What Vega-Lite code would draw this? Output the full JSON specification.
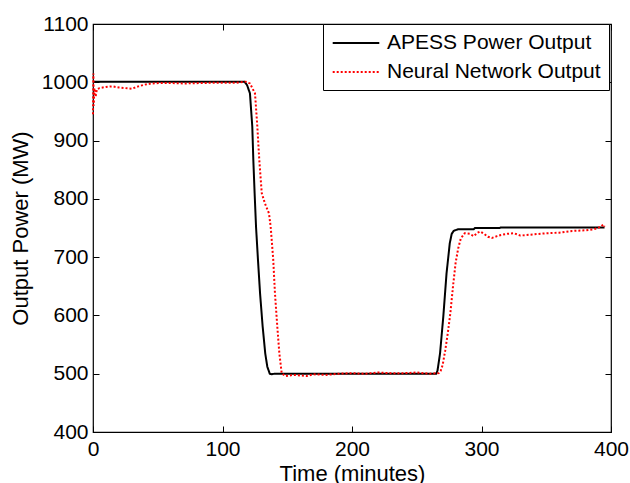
{
  "$schema": "https://vega.github.io/schema/vega-lite/v6.json",
  "width": 518,
  "height": 408,
  "autosize": {"type": "none"},
  "padding": {"left": 93, "top": 24, "right": 19, "bottom": 51},
  "background": "white",
  "config": {
    "view": {"stroke": "black", "strokeWidth": 1.2},
    "font": "Liberation Sans",
    "axis": {
      "grid": false,
      "domain": false,
      "tickColor": "black",
      "tickSize": -6,
      "tickWidth": 1,
      "labelColor": "black",
      "labelFont": "Liberation Sans",
      "labelFontSize": 21,
      "titleFont": "Liberation Sans",
      "titleFontSize": 22,
      "titleFontWeight": "normal",
      "titleColor": "black",
      "format": "d"
    }
  },
  "data": {
    "values": [
      {"t": 0, "v": 1001, "s": "APESS Power Output"},
      {"t": 117, "v": 1001, "s": "APESS Power Output"},
      {"t": 119, "v": 995, "s": "APESS Power Output"},
      {"t": 121.2, "v": 981, "s": "APESS Power Output"},
      {"t": 123, "v": 924, "s": "APESS Power Output"},
      {"t": 123.8, "v": 867, "s": "APESS Power Output"},
      {"t": 124.8, "v": 810, "s": "APESS Power Output"},
      {"t": 125.9, "v": 752, "s": "APESS Power Output"},
      {"t": 127.4, "v": 695, "s": "APESS Power Output"},
      {"t": 129, "v": 638, "s": "APESS Power Output"},
      {"t": 131, "v": 581, "s": "APESS Power Output"},
      {"t": 133, "v": 535, "s": "APESS Power Output"},
      {"t": 134.6, "v": 512, "s": "APESS Power Output"},
      {"t": 136.5, "v": 500, "s": "APESS Power Output"},
      {"t": 138, "v": 499, "s": "APESS Power Output"},
      {"t": 140, "v": 500, "s": "APESS Power Output"},
      {"t": 265, "v": 500, "s": "APESS Power Output"},
      {"t": 266, "v": 505, "s": "APESS Power Output"},
      {"t": 268, "v": 535, "s": "APESS Power Output"},
      {"t": 270.5, "v": 598, "s": "APESS Power Output"},
      {"t": 273, "v": 672, "s": "APESS Power Output"},
      {"t": 275.5, "v": 724, "s": "APESS Power Output"},
      {"t": 277, "v": 740, "s": "APESS Power Output"},
      {"t": 278.5, "v": 745, "s": "APESS Power Output"},
      {"t": 282, "v": 748, "s": "APESS Power Output"},
      {"t": 294, "v": 748, "s": "APESS Power Output"},
      {"t": 295, "v": 750, "s": "APESS Power Output"},
      {"t": 314, "v": 750, "s": "APESS Power Output"},
      {"t": 315, "v": 751, "s": "APESS Power Output"},
      {"t": 395, "v": 751, "s": "APESS Power Output"},
      {"t": 0, "v": 945, "s": "Neural Network Output"},
      {"t": 0.3, "v": 1015, "s": "Neural Network Output"},
      {"t": 0.6, "v": 960, "s": "Neural Network Output"},
      {"t": 1, "v": 990, "s": "Neural Network Output"},
      {"t": 2, "v": 975, "s": "Neural Network Output"},
      {"t": 3, "v": 988, "s": "Neural Network Output"},
      {"t": 5, "v": 990, "s": "Neural Network Output"},
      {"t": 10, "v": 992, "s": "Neural Network Output"},
      {"t": 15, "v": 993, "s": "Neural Network Output"},
      {"t": 20, "v": 991, "s": "Neural Network Output"},
      {"t": 25, "v": 990, "s": "Neural Network Output"},
      {"t": 30, "v": 989, "s": "Neural Network Output"},
      {"t": 35, "v": 993, "s": "Neural Network Output"},
      {"t": 40, "v": 996, "s": "Neural Network Output"},
      {"t": 45, "v": 998, "s": "Neural Network Output"},
      {"t": 55, "v": 999, "s": "Neural Network Output"},
      {"t": 70, "v": 998, "s": "Neural Network Output"},
      {"t": 90, "v": 999, "s": "Neural Network Output"},
      {"t": 110, "v": 999, "s": "Neural Network Output"},
      {"t": 118, "v": 1001, "s": "Neural Network Output"},
      {"t": 121.2, "v": 998, "s": "Neural Network Output"},
      {"t": 125.1, "v": 981, "s": "Neural Network Output"},
      {"t": 126.9, "v": 924, "s": "Neural Network Output"},
      {"t": 128.4, "v": 867, "s": "Neural Network Output"},
      {"t": 130.3, "v": 810, "s": "Neural Network Output"},
      {"t": 132.8, "v": 792, "s": "Neural Network Output"},
      {"t": 135.9, "v": 775, "s": "Neural Network Output"},
      {"t": 137.2, "v": 752, "s": "Neural Network Output"},
      {"t": 139.2, "v": 695, "s": "Neural Network Output"},
      {"t": 140.5, "v": 638, "s": "Neural Network Output"},
      {"t": 142.3, "v": 581, "s": "Neural Network Output"},
      {"t": 143.9, "v": 535, "s": "Neural Network Output"},
      {"t": 145.7, "v": 501, "s": "Neural Network Output"},
      {"t": 148.3, "v": 496, "s": "Neural Network Output"},
      {"t": 155, "v": 498, "s": "Neural Network Output"},
      {"t": 160, "v": 497, "s": "Neural Network Output"},
      {"t": 165, "v": 496, "s": "Neural Network Output"},
      {"t": 170, "v": 499, "s": "Neural Network Output"},
      {"t": 180, "v": 498, "s": "Neural Network Output"},
      {"t": 190, "v": 500, "s": "Neural Network Output"},
      {"t": 200, "v": 501, "s": "Neural Network Output"},
      {"t": 210, "v": 500, "s": "Neural Network Output"},
      {"t": 220, "v": 502, "s": "Neural Network Output"},
      {"t": 230, "v": 501, "s": "Neural Network Output"},
      {"t": 240, "v": 501, "s": "Neural Network Output"},
      {"t": 250, "v": 502, "s": "Neural Network Output"},
      {"t": 260, "v": 500, "s": "Neural Network Output"},
      {"t": 267, "v": 501, "s": "Neural Network Output"},
      {"t": 268.5, "v": 505, "s": "Neural Network Output"},
      {"t": 270, "v": 515, "s": "Neural Network Output"},
      {"t": 272, "v": 540, "s": "Neural Network Output"},
      {"t": 274, "v": 570, "s": "Neural Network Output"},
      {"t": 276, "v": 605, "s": "Neural Network Output"},
      {"t": 278, "v": 650, "s": "Neural Network Output"},
      {"t": 280, "v": 690, "s": "Neural Network Output"},
      {"t": 282, "v": 715, "s": "Neural Network Output"},
      {"t": 284, "v": 732, "s": "Neural Network Output"},
      {"t": 287, "v": 741, "s": "Neural Network Output"},
      {"t": 291, "v": 740, "s": "Neural Network Output"},
      {"t": 294, "v": 736, "s": "Neural Network Output"},
      {"t": 297, "v": 742, "s": "Neural Network Output"},
      {"t": 299, "v": 744, "s": "Neural Network Output"},
      {"t": 302, "v": 740, "s": "Neural Network Output"},
      {"t": 305, "v": 735, "s": "Neural Network Output"},
      {"t": 308, "v": 733, "s": "Neural Network Output"},
      {"t": 312, "v": 736, "s": "Neural Network Output"},
      {"t": 315, "v": 738, "s": "Neural Network Output"},
      {"t": 320, "v": 740, "s": "Neural Network Output"},
      {"t": 325, "v": 741, "s": "Neural Network Output"},
      {"t": 330, "v": 737, "s": "Neural Network Output"},
      {"t": 340, "v": 739, "s": "Neural Network Output"},
      {"t": 350, "v": 741, "s": "Neural Network Output"},
      {"t": 360, "v": 742, "s": "Neural Network Output"},
      {"t": 370, "v": 745, "s": "Neural Network Output"},
      {"t": 380, "v": 746, "s": "Neural Network Output"},
      {"t": 387, "v": 748, "s": "Neural Network Output"},
      {"t": 392, "v": 752, "s": "Neural Network Output"},
      {"t": 394, "v": 756, "s": "Neural Network Output"},
      {"t": 395, "v": 752, "s": "Neural Network Output"}
    ]
  },
  "layer": [
    {
      "mark": {"type": "line", "strokeWidth": 2},
      "encoding": {
        "x": {
          "field": "t", "type": "quantitative",
          "scale": {"domain": [0, 400], "nice": false, "zero": false},
          "axis": {"values": [0, 100, 200, 300, 400], "title": "Time (minutes)", "labelPadding": 12, "titlePadding": 4, "labelFlush": false}
        },
        "y": {
          "field": "v", "type": "quantitative",
          "scale": {"domain": [400, 1100], "nice": false, "zero": false},
          "axis": {"values": [400, 500, 600, 700, 800, 900, 1000, 1100], "title": "Output Power (MW)", "labelPadding": 11, "titlePadding": 9, "labelFlush": false}
        },
        "color": {
          "field": "s", "type": "nominal",
          "scale": {"domain": ["APESS Power Output", "Neural Network Output"], "range": ["black", "#ff0000"]},
          "legend": {
            "title": null,
            "orient": "none",
            "legendX": 230,
            "legendY": 0,
            "strokeColor": "black",
            "fillColor": "white",
            "padding": 8,
            "symbolType": "M-2.33,0H2.33",
            "symbolSize": 400,
            "symbolOffset": 14,
            "symbolStrokeWidth": 2,
            "labelFontSize": 21,
            "labelFont": "Liberation Sans",
            "labelColor": "black",
            "labelOffset": 20,
            "labelLimit": 400,
            "rowPadding": 8
          }
        },
        "strokeDash": {
          "field": "s", "type": "nominal",
          "scale": {"domain": ["APESS Power Output", "Neural Network Output"], "range": [[1, 0], [2, 2]]},
          "legend": {
            "title": null,
            "orient": "none",
            "legendX": 230,
            "legendY": 0,
            "strokeColor": "black",
            "fillColor": "white",
            "padding": 8,
            "symbolType": "M-2.33,0H2.33",
            "symbolSize": 400,
            "symbolOffset": 14,
            "symbolStrokeWidth": 2,
            "labelFontSize": 21,
            "labelFont": "Liberation Sans",
            "labelColor": "black",
            "labelOffset": 20,
            "labelLimit": 400,
            "rowPadding": 8
          }
        }
      }
    },
    {
      "mark": {"type": "point", "opacity": 0},
      "encoding": {
        "x": {
          "field": "t", "type": "quantitative",
          "scale": {"domain": [0, 400], "nice": false, "zero": false},
          "axis": {"orient": "top", "values": [0, 100, 200, 300, 400], "labels": false, "title": null}
        },
        "y": {
          "field": "v", "type": "quantitative",
          "scale": {"domain": [400, 1100], "nice": false, "zero": false},
          "axis": {"orient": "right", "values": [400, 500, 600, 700, 800, 900, 1000, 1100], "labels": false, "title": null}
        }
      }
    }
  ],
  "resolve": {"axis": {"x": "independent", "y": "independent"}}
}
